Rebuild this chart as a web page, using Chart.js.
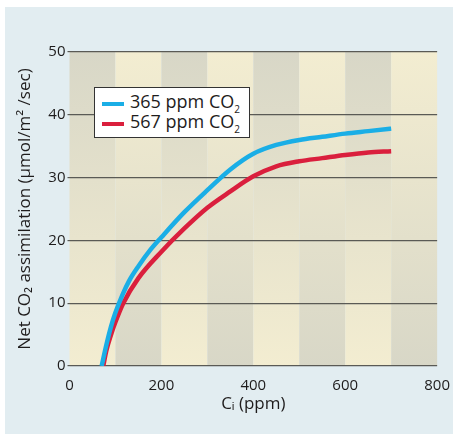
<!DOCTYPE html>
<html>
<head>
<meta charset="utf-8">
<script src="https://cdn.jsdelivr.net/npm/chart.js@4/dist/chart.umd.min.js"></script>
<style>
  body { margin: 0; background: #fff; }
  #panel { position: absolute; left: 5px; top: 7px; width: 448px; height: 427px; background: #e2edf1; }
  #wrap { position: absolute; left: 0; top: 0; width: 453px; height: 434px; }
  #legenda {
    position: absolute; left: 94px; top: 87px; width: 154px; height: 49px;
    background: #fff; border: 1.5px solid #333;
    font-family: 'Open Sans', sans-serif; font-size: 18px; color: #1e1c1c;
  }
  #legenda .item { position: absolute; left: 0; height: 20px; line-height: 20px; white-space: nowrap; }
  #legenda .risco { position: absolute; left: 7px; top: 8px; width: 22px; height: 4px; }
  #legenda .txt { position: absolute; left: 35px; top: -3px; }
  #legenda sub { font-size: 10px; vertical-align: -5px; line-height: 0; }
</style>
</head>
<body>
<div id="panel"></div>
<div id="wrap"><canvas id="grafico" width="453" height="434"></canvas></div>
<div id="legenda"></div>
<script>
//dados
let nomes = ['365 ppm CO₂', '567 ppm CO₂']
let cores = ['#1aaee6', '#da1f3d']

let ciAzul = [70, 80, 90, 100, 115, 130, 150, 175, 200, 250, 300, 350, 400, 450, 500, 550, 600, 650, 700]
let azul   = [0, 3.3, 6.2, 8.5, 11.3, 13.6, 15.9, 18.4, 20.5, 24.5, 28.0, 31.3, 33.8, 35.2, 36.0, 36.5, 37.0, 37.4, 37.8]

let ciVerm = [73.5, 80, 90, 100, 117, 150, 200, 250, 300, 350, 400, 450, 500, 550, 600, 650, 700]
let verm   = [0, 2.4, 4.9, 7.0, 10, 14.0, 18.2, 21.9, 25.2, 27.8, 30.2, 31.8, 32.6, 33.1, 33.6, 34.0, 34.2]

let xTicks = [0, 200, 400, 600, 800]
let yTicks = [0, 10, 20, 30, 40, 50]

function pares(xs, ys) {
    return xs.map((x, i) => ({x: x, y: ys[i]}))
}

//faixas verticais com degrade (uma escura em cima, a outra escura embaixo)
const faixas = {
    id: 'faixas',
    beforeDraw(chart) {
        let ctx = chart.ctx
        let area = chart.chartArea
        let sx = chart.scales.x
        let escuro = '#d8d7c7', claro = '#f3edd1'
        for (let v = sx.min, i = 0; v < sx.max; v += 100, i++) {
            let x0 = sx.getPixelForValue(v)
            let x1 = sx.getPixelForValue(v + 100)
            let g = ctx.createLinearGradient(0, area.top, 0, area.bottom)
            g.addColorStop(0, i % 2 == 0 ? escuro : claro)
            g.addColorStop(1, i % 2 == 0 ? claro : escuro)
            ctx.fillStyle = g
            ctx.fillRect(x0, area.top, x1 - x0, area.bottom - area.top)
        }
    }
}

Chart.defaults.font.family = "'Open Sans', sans-serif"
Chart.defaults.color = '#1e1c1c'

var ctx = document.getElementById('grafico').getContext('2d')
var grafico = new Chart(ctx, {
    type: 'line',
    data: {
        datasets: [
            { label: nomes[0], data: pares(ciAzul, azul), borderColor: cores[0], backgroundColor: cores[0] },
            { label: nomes[1], data: pares(ciVerm, verm), borderColor: cores[1], backgroundColor: cores[1] }
        ]
    },
    options: {
        responsive: false,
        animation: false,
        layout: { padding: { left: 5, top: 52, right: 15, bottom: 8 } },
        elements: {
            point: { radius: 0 },
            line: { borderWidth: 4.5, cubicInterpolationMode: 'monotone', borderCapStyle: 'butt' }
        },
        plugins: { legend: { display: false }, tooltip: { enabled: false } },
        scales: {
            x: {
                type: 'linear', min: 0, max: 800,
                afterBuildTicks: s => { s.ticks = xTicks.map(v => ({value: v})) },
                afterFit: s => { s.height = 60 },
                grid: { display: false },
                border: { display: false },
                ticks: { font: { size: 15 }, padding: 3, maxRotation: 0 },
                title: { display: true, text: 'Cᵢ (ppm)', font: { size: 17 }, padding: { top: 0, bottom: 12 } }
            },
            y: {
                min: 0, max: 50,
                afterBuildTicks: s => { s.ticks = yTicks.map(v => ({value: v})) },
                afterFit: s => { s.width = 64.5 },
                grid: { color: '#5a5a55', lineWidth: 1.2, tickLength: 2 },
                border: { display: false },
                ticks: { font: { size: 15 }, padding: 2 },
                title: { display: true, text: 'Net CO₂ assimilation (µmol/m² /sec)', font: { size: 17 }, padding: { top: 10, bottom: 0 } }
            }
        }
    },
    plugins: [faixas]
})

//legenda em html a partir dos datasets
let leg = document.getElementById('legenda')
grafico.data.datasets.forEach((d, i) => {
    let item = document.createElement('div')
    item.className = 'item'
    item.style.top = (6 + i * 20) + 'px'
    item.innerHTML = '<span class="risco" style="background:' + d.borderColor + '"></span>' +
        '<span class="txt">' + d.label.replace('₂', '<sub>2</sub>') + '</span>'
    leg.appendChild(item)
})
</script>
</body>
</html>
